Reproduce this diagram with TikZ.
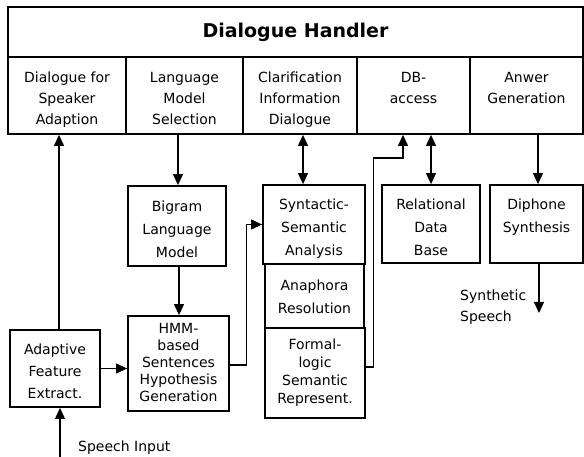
\documentclass[tikz,border=0pt]{standalone}
\usepackage{fontspec}
\setmainfont{DejaVu Sans}
\usetikzlibrary{arrows.meta}
\newcommand\mtxt[2][0pt]{\raisebox{-#1}[\height][\depth]{\begin{tabular}{@{}c@{}}#2\end{tabular}}}
\begin{document}
\begin{tikzpicture}[x=1pt,y=-1pt,
  box/.style={draw, line width=1.8pt, inner sep=0pt, font=\fontsize{14}{23}\selectfont},
  cell/.style={draw, line width=1.8pt, inner sep=0pt, font=\fontsize{14}{21}\selectfont, minimum height=77pt},
  conn/.style={line width=1.1pt, -{Triangle[length=11pt,width=10pt]}},
  dconn/.style={line width=1.1pt, {Triangle[length=11pt,width=10pt]}-{Triangle[length=11pt,width=10pt]}},
  lbl/.style={inner sep=0pt, font=\fontsize{14}{21}\selectfont}]
\useasboundingbox (0,0) rectangle (584,457);
% header
\node[draw, line width=1.8pt, minimum width=575pt, minimum height=50pt, inner sep=0pt,
      font=\bfseries\fontsize{19}{22}\selectfont] (title) at (295.5,32) {Dialogue Handler};
\node[cell, minimum width=118pt] (dsa) at (67,95.5) {\mtxt[3.5pt]{Dialogue for\\Speaker\\Adaption}};
\node[cell, minimum width=117pt] (lms) at (184.5,95.5) {\mtxt[3.5pt]{Language\\Model\\Selection}};
\node[cell, minimum width=114pt] (cid) at (300,95.5) {\mtxt[3.5pt]{Clarification\\Information\\Dialogue}};
\node[cell, minimum width=113pt] (dba) at (413.5,95.5) {\mtxt[3.5pt]{DB-\\access\\\mbox{}}};
\node[cell, minimum width=113pt] (ang) at (526.5,95.5) {\mtxt[3.5pt]{Anwer\\Generation\\\mbox{}}};
% modules
\node[box, minimum width=98pt, minimum height=80pt] (bigram) at (177,226) {\mtxt[3.5pt]{Bigram\\Language\\Model}};
\node[box, minimum width=102pt, minimum height=79pt] (synt) at (314,224.5) {\mtxt[3.5pt]{Syntactic-\\Semantic\\Analysis}};
\node[box, minimum width=99pt, minimum height=64pt] (anaph) at (314.5,296) {\mtxt[1pt]{Anaphora\\Resolution}};
\node[box, minimum width=100pt, minimum height=90pt, font=\fontsize{14}{17.7}\selectfont] (formal) at (315,373) {\mtxt{Formal-\\logic\\Semantic\\Represent.}};
\node[box, minimum width=98pt, minimum height=78pt] (reldb) at (431,224) {\mtxt[4pt]{Relational\\Data\\Base}};
\node[box, minimum width=93pt, minimum height=78pt] (diph) at (536.5,224) {\mtxt[4pt]{Diphone\\Synthesis\\\mbox{}}};
\node[box, minimum width=90pt, minimum height=77pt, font=\fontsize{14}{22}\selectfont] (adapt) at (55,368.5) {\mtxt[3.5pt]{Adaptive\\Feature\\Extract.}};
\node[box, minimum width=101pt, minimum height=95pt, font=\fontsize{14}{17}\selectfont] (hmm) at (178.5,363.5) {\mtxt[1pt]{HMM-\\based\\Sentences\\Hypothesis\\Generation}};
% labels
\node[lbl, anchor=west] (si) at (78,448) {Speech Input};
\node[lbl, anchor=west, align=left] (ssl) at (460,307.5) {Synthetic\\Speech};
\coordinate (sin) at (60,457);
\coordinate (sout) at (539,313);
% connectors
\draw[conn] ([xshift=4pt]adapt.north) -- ([xshift=4pt]adapt.north |- dsa.south);
\draw[conn] (sin) -- (sin |- adapt.south);
\draw[conn] ([xshift=1pt]bigram.north |- lms.south) -- ([xshift=1pt]bigram.north);
\draw[conn] ([xshift=2pt]bigram.south) -- ([xshift=2pt]bigram.south |- hmm.north);
\draw[dconn] ([xshift=-11pt]synt.north) -- ([xshift=-11pt]synt.north |- cid.south);
\draw[dconn] (reldb.north) -- (reldb.north |- dba.south);
\draw[conn] ([xshift=1.5pt]diph.north |- ang.south) -- ([xshift=1.5pt]diph.north);
\draw[conn] ([xshift=2.5pt]diph.south) -- (sout);
\draw[conn] (adapt.east) -- (adapt.east -| hmm.west);
\draw[conn] ([yshift=-1.5pt]hmm.east) -- ++(17,0) |- (synt.west);
\draw[conn] ([yshift=6pt]formal.east) -- ++(8,0) coordinate (f1) -- (f1 |- 0,158) -| ([xshift=-10.5pt]dba.south);
\end{tikzpicture}
\end{document}
